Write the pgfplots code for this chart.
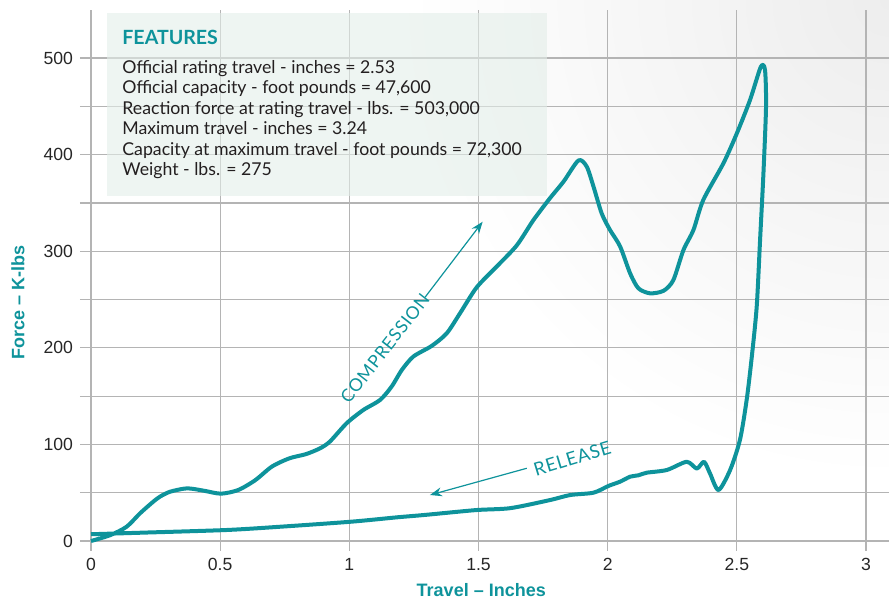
\documentclass[border=0pt]{standalone}
\usepackage{fontspec}
\setmainfont{Liberation Sans}
\newfontfamily\lato{Lato}
\newfontfamily\latospaced[LetterSpace=4]{Lato}
\usepackage{pgfplots}
\pgfplotsset{compat=1.18}
\usetikzlibrary{arrows.meta}

\definecolor{curveteal}{HTML}{0E939B}
\definecolor{gridgray}{HTML}{B4B4B4}
\definecolor{boxfill}{RGB}{227,238,233}
\definecolor{bodytext}{HTML}{231F20}

\begin{document}
\begin{tikzpicture}
% faint grey shading in the top right corner
\begin{scope}
  \clip (-40pt,-24pt) rectangle (404.5pt,275.5pt);
  \shade[inner color=black!7, outer color=white] (404.5pt,275.5pt) circle (240pt);
\end{scope}

\begin{axis}[
    anchor=south west, at={(0,0)},
    width=404.5pt, height=270.5pt, scale only axis,
    xmin=-0.0426, xmax=3.089,
    ymin=-10.35, ymax=549.7,
    axis line style={draw=none},
    major tick length=0pt, minor tick length=0pt,
    xtick={0,0.5,1,1.5,2,2.5,3},
    xticklabels={0,0.5,1,1.5,2,2.5,3},
    ytick={0,100,200,300,400,500},
    minor ytick={50,150,250,350,450},
    grid=both,
    major grid style={draw=gridgray, line width=0.6pt},
    minor grid style={draw=gridgray, line width=0.6pt},
    /pgf/number format/assume math mode=true,
    ticklabel style={font=\fontsize{8.8}{10}\selectfont, text=black!85},
    xlabel={Travel – Inches},
    ylabel={Force – K-lbs},
    label style={font=\bfseries\fontsize{9}{10}\selectfont, text=curveteal},
    xlabel style={at={(axis description cs:0.496,-0.072)}, anchor=center},
    ylabel style={at={(axis description cs:-0.0766,0.46)}, anchor=center, rotate=0},
  ]

  % features box
  \fill[boxfill, fill opacity=0.6] (axis cs:0.062,546.6) rectangle (axis cs:1.765,357.1);
  \node[anchor=base west, inner sep=0pt, text=curveteal, font=\lato\bfseries\fontsize{9.8}{11}\selectfont]
    at (axis cs:0.12,514.5) {FEATURES};
  \begin{scope}[every node/.style={anchor=base west, inner sep=0pt, text=bodytext, font=\lato\fontsize{8.85}{10}\selectfont}]
    \node at (axis cs:0.12,484.2) {Official rating travel - inches = 2.53};
    \node at (axis cs:0.12,463.0) {Official capacity - foot pounds = 47,600};
    \node at (axis cs:0.12,441.8) {Reaction force at rating travel - lbs. = 503,000};
    \node at (axis cs:0.12,420.6) {Maximum travel - inches = 3.24};
    \node at (axis cs:0.12,399.4) {Capacity at maximum travel - foot pounds = 72,300};
    \node at (axis cs:0.12,378.2) {Weight - lbs. = 275};
  \end{scope}

  % compression and release loop
  \addplot[curveteal, line width=2pt, smooth, tension=0.45, line join=round] coordinates {
    (0,0) (0.074,6) (0.138,14.8) (0.19,28.7) (0.241,40.7) (0.267,45.9)
    (0.306,51) (0.372,54.5) (0.438,52) (0.503,49) (0.57,52.8) (0.636,63)
    (0.70,77) (0.768,85.6) (0.833,90) (0.887,96) (0.925,103) (0.99,122)
    (1.054,135.6) (1.119,146) (1.164,160) (1.203,177) (1.248,191) (1.319,202)
    (1.377,215) (1.429,236) (1.493,262.6) (1.57,284) (1.648,306) (1.712,332)
    (1.777,355) (1.829,372) (1.887,394) (1.919,387.5) (1.945,367) (1.977,339)
    (2.009,322) (2.048,305) (2.087,277) (2.119,261.6) (2.164,256.4) (2.216,259)
    (2.254,270) (2.293,301) (2.332,322) (2.37,353) (2.448,391) (2.5,422)
    (2.551,456.5) (2.593,491) (2.609,487.6) (2.613,450) (2.603,381) (2.59,312)
    (2.577,243) (2.558,191) (2.538,146) (2.512,104.6) (2.474,73.5) (2.429,52.8)
    (2.396,70) (2.373,82) (2.345,75) (2.306,82) (2.229,73.5) (2.151,70.7)
    (2.119,68) (2.087,66.6) (2.048,61.4) (2.003,57) (1.945,50) (1.855,47.6)
    (1.777,42.4) (1.623,34) (1.49,32) (1.293,27) (1.184,24.5) (1.008,20)
    (0.745,15) (0.526,11.4) (0.196,8.6) (0,7)
  };

  % annotations
  \draw[curveteal, line width=0.6pt, -{Stealth[length=6pt,width=4.5pt]}]
    (axis cs:1.293,252.3) -- (axis cs:1.516,330.5);
  \draw[curveteal, line width=0.6pt, -{Stealth[length=6pt,width=4.5pt]}]
    (axis cs:1.687,75.3) -- (axis cs:1.312,47.6);
  \node[rotate=52, text=curveteal, inner sep=1pt, font=\latospaced\fontsize{8.8}{10}\selectfont]
    at (axis cs:1.138,199.5) {COMPRESSION};
  \node[rotate=17, text=curveteal, inner sep=1pt, font=\latospaced\fontsize{9.2}{10}\selectfont]
    at (axis cs:1.863,85.6) {RELEASE};
\end{axis}

\pgfresetboundingbox
\path[use as bounding box] (-40pt,-24pt) rectangle (404.5pt,275.5pt);
\end{tikzpicture}
\end{document}
